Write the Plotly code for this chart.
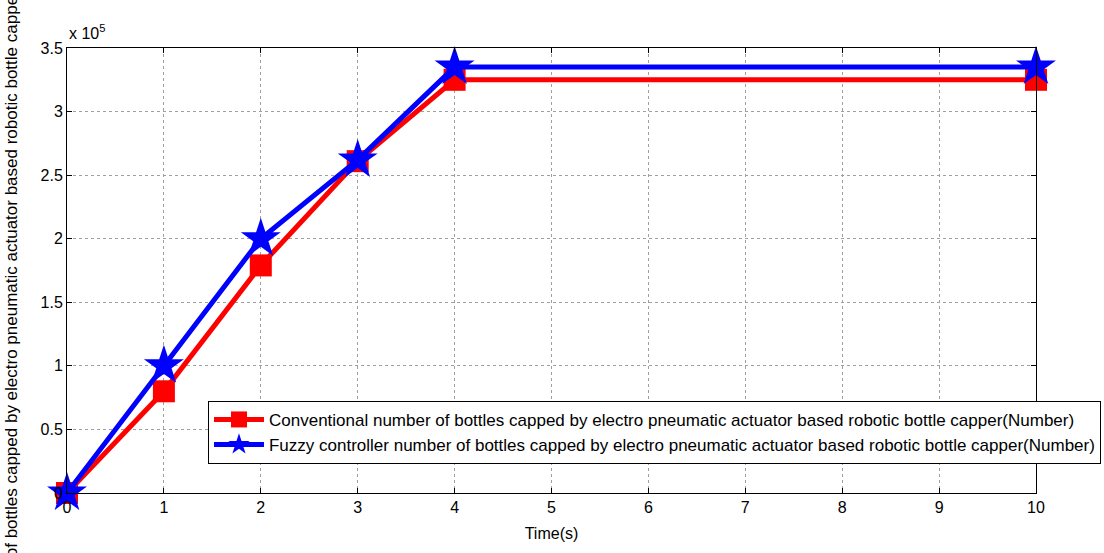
import plotly.graph_objects as go

time_s = [0, 1, 2, 3, 4, 10]
conventional = [0, 0.80e5, 1.79e5, 2.61e5, 3.25e5, 3.25e5]
fuzzy = [0, 1.00e5, 2.00e5, 2.62e5, 3.35e5, 3.35e5]

x_ticks = list(range(0, 11))
y_tickvals = [0, 0.5e5, 1e5, 1.5e5, 2e5, 2.5e5, 3e5, 3.5e5]
y_ticktext = ["0", "0.5", "1", "1.5", "2", "2.5", "3", "3.5"]
y_title = "Number of bottles capped by electro pneumatic actuator based robotic bottle capper(Number)"

FONT = "Liberation Sans, Arial, sans-serif"
FS = 16
LFS = 17

fig = go.Figure()
fig.add_trace(go.Scatter(
    x=time_s, y=conventional, mode="lines+markers", cliponaxis=False,
    name="Conventional number of bottles capped by electro pneumatic actuator based robotic bottle capper(Number)",
    line=dict(color="#ff0000", width=5),
    marker=dict(symbol="square", size=22, color="#ff0000"),
))
fig.add_trace(go.Scatter(
    x=time_s, y=fuzzy, mode="lines+markers", cliponaxis=False,
    name="Fuzzy controller number of bottles capped by electro pneumatic actuator based robotic bottle capper(Number)",
    line=dict(color="#0000ff", width=5),
    marker=dict(symbol="star", size=30, color="#0000ff"),
))

fig.update_layout(
    width=1104, height=553,
    margin=dict(l=67, r=68, t=48, b=60, autoexpand=False),
    paper_bgcolor="white", plot_bgcolor="white",
    font=dict(family=FONT, size=FS, color="black"),
    showlegend=True,
    legend=dict(
        x=0.1455, y=0.207, xanchor="left", yanchor="top",
        bgcolor="white", bordercolor="black", borderwidth=1,
        font=dict(family=FONT, size=LFS, color="black"),
        tracegroupgap=0, itemwidth=50,
    ),
    xaxis=dict(
        range=[0, 10], tickvals=x_ticks, ticktext=[str(v) for v in x_ticks],
        showline=True, linecolor="black", linewidth=1, mirror="ticks",
        ticks="inside", ticklen=5, tickcolor="black",
        showgrid=True, gridcolor="#a0a0a0", griddash="dot", gridwidth=1,
        zeroline=False, automargin=False,
        title=dict(text="Time(s)", font=dict(size=FS), standoff=12),
    ),
    yaxis=dict(
        range=[0, 3.5e5], tickvals=y_tickvals, ticktext=y_ticktext,
        showline=True, linecolor="black", linewidth=1, mirror="ticks",
        ticks="inside", ticklen=5, tickcolor="black",
        showgrid=True, gridcolor="#a0a0a0", griddash="dot", gridwidth=1,
        zeroline=False, automargin=False,
    ),
    annotations=[
        dict(
            x=0, y=1, xref="paper", yref="paper", xanchor="left", yanchor="bottom",
            text="x 10<sup>5</sup>", showarrow=False, font=dict(size=FS), yshift=4,
        ),
        dict(
            x=-0.0568, y=0.5, xref="paper", yref="paper", xanchor="center", yanchor="middle",
            text=y_title, textangle=-90, showarrow=False, font=dict(size=LFS),
        ),
    ],
)

fig.write_html("out.html")
